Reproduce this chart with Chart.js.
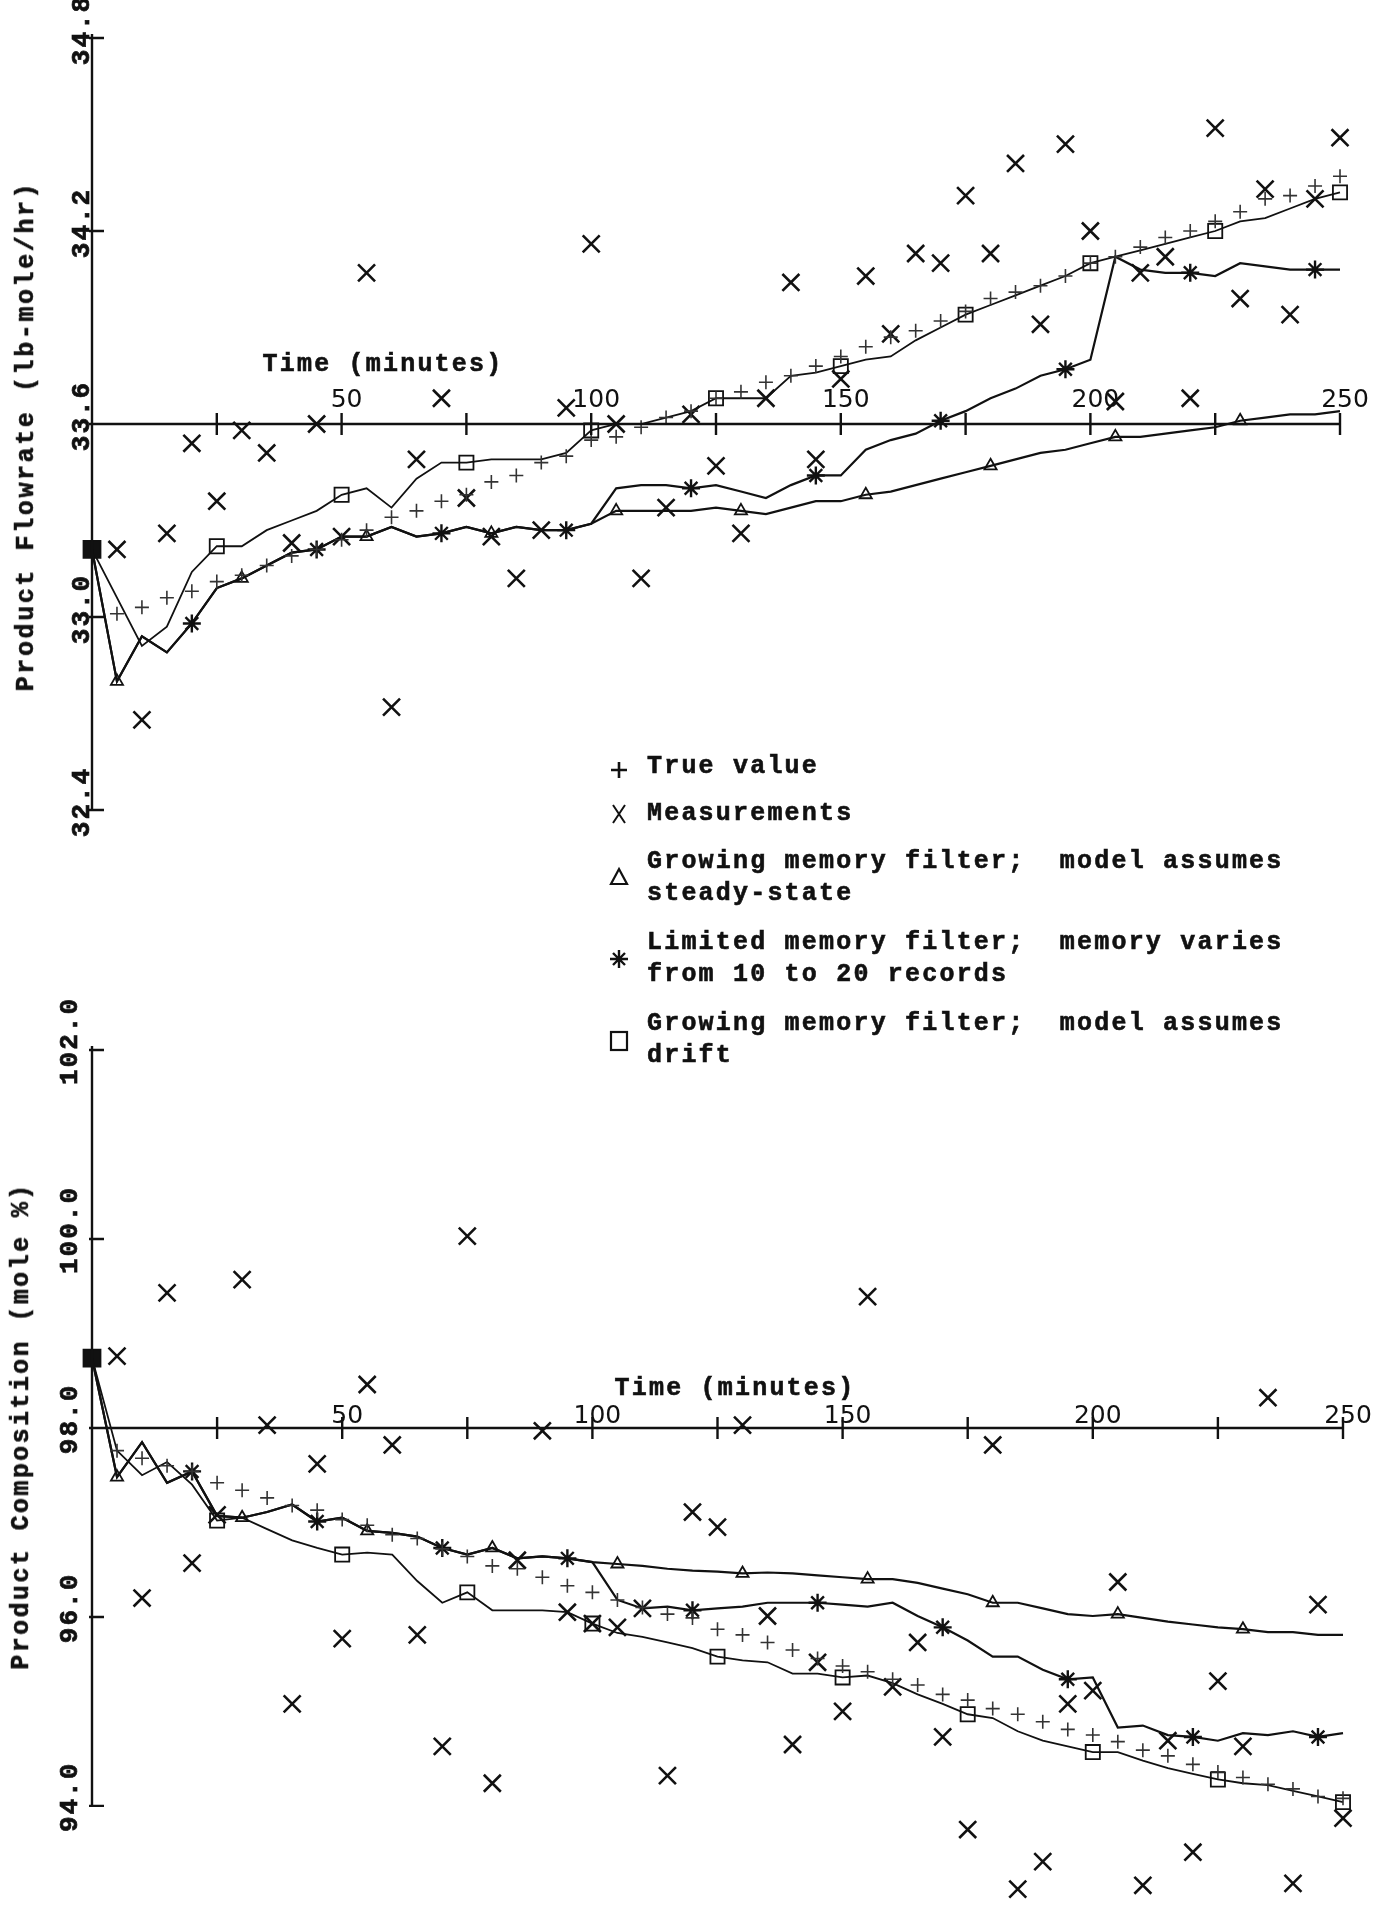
<!DOCTYPE html>
<html>
<head>
<meta charset="utf-8">
<script src="https://cdn.jsdelivr.net/npm/chart.js@4.4.0/dist/chart.umd.min.js"></script>
<style>
  html, body { margin: 0; padding: 0; background: #fff; }
  #page { position: relative; width: 1378px; height: 1915px; overflow: hidden; background: #fff; }
  canvas { position: absolute; left: 0; }
  #flow { top: 0; }
  #comp { top: 980px; }
  .tw { position: absolute; font-family: "Liberation Mono", "DejaVu Sans Mono", monospace; font-weight: bold;
        font-size: 25px; letter-spacing: 2.2px; color: #111; white-space: pre; line-height: 32px;
        -webkit-text-stroke: 0.6px #111; }
  .rot { transform: translate(-50%, -50%) rotate(-90deg); }
  .ctr { transform: translate(-50%, -50%); }
  #keys { position: absolute; left: 600px; top: 750px; }
</style>
</head>
<body>
<div id="page">
  <canvas id="flow" width="1378" height="850"></canvas>
  <canvas id="comp" width="1378" height="935"></canvas>

  <div class="tw rot" style="left:27px; top:436px; letter-spacing:2.6px;">Product Flowrate (lb-mole/hr)</div>
  <div class="tw ctr" style="left:383px; top:365px;">Time (minutes)</div>
  <div class="tw rot" style="left:22px; top:1426px; letter-spacing:2.4px;">Product Composition (mole %)</div>
  <div class="tw ctr" style="left:735px; top:1389px;">Time (minutes)</div>

  <svg id="keys" width="40" height="310" fill="none" stroke="#111">
    <path d="M11 20 H27 M19 12 V28" stroke-width="2.6"/>
    <path d="M13 55 L25 73 M25 55 L13 73" stroke-width="2"/>
    <path d="M19 119 L27 134 L11 134 Z" stroke-width="2.2"/>
    <path d="M10 209 H28 M19 200 V218 M13 203 L25 215 M25 203 L13 215" stroke-width="2.4"/>
    <rect x="11" y="282" width="16" height="18" stroke-width="2.2"/>
  </svg>
  <div class="tw" style="left:647px; top:751px;">True value</div>
  <div class="tw" style="left:647px; top:798px;">Measurements</div>
  <div class="tw" style="left:647px; top:846px;">Growing memory filter;  model assumes
steady-state</div>
  <div class="tw" style="left:647px; top:927px;">Limited memory filter;  memory varies
from 10 to 20 records</div>
  <div class="tw" style="left:647px; top:1008px;">Growing memory filter;  model assumes
drift</div>
</div>

<script>
var ink = '#111';

// time of each record, minutes
var minutes = [0, 5, 10, 15, 20, 25, 30, 35, 40, 45,
    50, 55, 60, 65, 70, 75, 80, 85, 90, 95,
    100, 105, 110, 115, 120, 125, 130, 135, 140, 145,
    150, 155, 160, 165, 170, 175, 180, 185, 190, 195,
    200, 205, 210, 215, 220, 225, 230, 235, 240, 245, 250];

var timeTicks = [25, 50, 75, 100, 125, 150, 175, 200, 225, 250];
var timeLabels = [50, 100, 150, 200, 250];
var flowTicks = [34.8, 34.2, 33.6, 33.0, 32.4];
var compTicks = [102.0, 100.0, 98.0, 96.0, 94.0];

// product flowrate (lb-mole/hr)
var flowTrue = [32.98, 33.01, 33.03, 33.06, 33.08, 33.11, 33.13, 33.16, 33.19, 33.21,
    33.24, 33.27, 33.31, 33.33, 33.36, 33.38, 33.42, 33.44, 33.48, 33.50,
    33.55, 33.56, 33.59, 33.62, 33.64, 33.68, 33.70, 33.73, 33.75, 33.78,
    33.81, 33.84, 33.87, 33.89, 33.92, 33.95, 33.99, 34.01, 34.03, 34.06,
    34.10, 34.12, 34.15, 34.18, 34.20, 34.23, 34.26, 34.30, 34.31, 34.34, 34.37];
var flowMeas = [null, 33.21, 32.68, 33.26, 33.54, 33.36, 33.58, 33.51, 33.23, 33.60,
    33.25, 34.07, 32.72, 33.49, 33.68, 33.37, 33.25, 33.12, 33.27, 33.65,
    34.16, 33.60, 33.12, 33.34, 33.63, 33.47, 33.26, 33.68, 34.04, 33.49,
    33.74, 34.06, 33.88, 34.13, 34.10, 34.31, 34.13, 34.41, 33.91, 34.47,
    34.20, 33.67, 34.07, 34.12, 33.68, 34.52, 33.99, 34.33, 33.94, 34.30, 34.49];
var flowSteady = [33.21, 32.80, 32.94, 32.89, 32.98, 33.09, 33.12, 33.16, 33.20, 33.21,
    33.25, 33.25, 33.28, 33.25, 33.26, 33.28, 33.26, 33.28, 33.27, 33.27,
    33.29, 33.33, 33.33, 33.33, 33.33, 33.34, 33.33, 33.32, 33.34, 33.36,
    33.36, 33.38, 33.39, 33.41, 33.43, 33.45, 33.47, 33.49, 33.51, 33.52,
    33.54, 33.56, 33.56, 33.57, 33.58, 33.59, 33.61, 33.62, 33.63, 33.63, 33.64];
var flowLimited = [33.21, 32.80, 32.94, 32.89, 32.98, 33.09, 33.12, 33.16, 33.20, 33.21,
    33.25, 33.25, 33.28, 33.25, 33.26, 33.28, 33.26, 33.28, 33.27, 33.27,
    33.29, 33.40, 33.41, 33.41, 33.40, 33.41, 33.39, 33.37, 33.41, 33.44,
    33.44, 33.52, 33.55, 33.57, 33.61, 33.64, 33.68, 33.71, 33.75, 33.77,
    33.80, 34.12, 34.08, 34.07, 34.07, 34.06, 34.10, 34.09, 34.08, 34.08, 34.08];
var flowDrift = [33.21, null, 32.91, 32.97, 33.14, 33.22, 33.22, 33.27, 33.30, 33.33,
    33.38, 33.40, 33.34, 33.43, 33.48, 33.48, 33.49, 33.49, 33.49, 33.51,
    33.58, 33.60, 33.60, 33.62, 33.64, 33.68, 33.68, 33.68, 33.75, 33.76,
    33.78, 33.80, 33.81, 33.86, 33.90, 33.94, 33.97, 34.00, 34.03, 34.06,
    34.10, 34.12, 34.14, 34.16, 34.18, 34.20, 34.23, 34.24, 34.27, 34.30, 34.32];

// product composition (mole %)
var compTrue = [97.85, 97.76, 97.68, 97.60, 97.54, 97.42, 97.34, 97.26, 97.18, 97.13,
    97.03, 96.97, 96.87, 96.83, 96.72, 96.64, 96.54, 96.51, 96.42, 96.33,
    96.26, 96.18, 96.10, 96.03, 95.99, 95.87, 95.81, 95.73, 95.65, 95.56,
    95.48, 95.42, 95.34, 95.28, 95.18, 95.12, 95.03, 94.97, 94.89, 94.81,
    94.75, 94.68, 94.59, 94.53, 94.44, 94.36, 94.30, 94.23, 94.18, 94.10, 94.08];
var compMeas = [null, 98.76, 96.20, 99.43, 96.57, 97.08, 99.57, 98.03, 95.08, 97.62,
    95.77, 98.46, 97.82, 95.81, 94.63, 100.03, 94.24, 96.60, 97.97, 96.05,
    95.93, 95.89, 96.09, 94.32, 97.11, 96.95, 98.03, 96.01, 94.65, 95.52,
    95.00, 99.39, 95.26, 95.73, 94.73, 93.75, 97.82, 93.12, 93.41, 95.08,
    95.22, 96.37, 93.16, 94.69, 93.51, 95.32, 94.63, 98.32, 93.18, 96.13, 93.87];
var compSteady = [98.74, 97.48, 97.85, 97.42, 97.54, 97.07, 97.05, 97.11, 97.19, 97.01,
    97.05, 96.91, 96.89, 96.85, 96.73, 96.66, 96.73, 96.62, 96.64, 96.62,
    96.58, 96.56, 96.54, 96.51, 96.49, 96.48, 96.46, 96.47, 96.46, 96.44,
    96.42, 96.40, 96.40, 96.36, 96.30, 96.24, 96.15, 96.15, 96.09, 96.03,
    96.01, 96.03, 95.99, 95.95, 95.92, 95.89, 95.87, 95.84, 95.84, 95.81, 95.81];
var compLimited = [98.74, 97.48, 97.85, 97.42, 97.54, 97.07, 97.05, 97.11, 97.19, 97.01,
    97.05, 96.91, 96.89, 96.85, 96.73, 96.66, 96.73, 96.62, 96.64, 96.62,
    96.58, 96.18, 96.09, 96.11, 96.07, 96.09, 96.11, 96.15, 96.15, 96.15,
    96.13, 96.11, 96.15, 96.01, 95.89, 95.75, 95.58, 95.58, 95.44, 95.34,
    95.36, 94.83, 94.85, 94.75, 94.73, 94.69, 94.77, 94.75, 94.79, 94.73, 94.77];
var compDrift = [98.74, 97.76, 97.50, 97.64, 97.40, 97.02, 97.05, 96.93, 96.81, 96.73,
    96.66, 96.68, 96.66, 96.38, 96.15, 96.26, 96.07, 96.07, 96.07, 96.05,
    95.93, 95.83, 95.79, 95.73, 95.67, 95.58, 95.54, 95.52, 95.40, 95.40,
    95.36, 95.38, 95.30, 95.18, 95.08, 94.97, 94.93, 94.79, 94.69, 94.63,
    94.57, 94.57, 94.48, 94.40, 94.34, 94.28, 94.24, 94.22, 94.16, 94.10, 94.04];

// axes cross inside the plot, labels sit above the time axis
var crossAxes = {
    id: 'crossAxes',
    afterDatasetsDraw: function (chart, args, o) {
        var ctx = chart.ctx, xs = chart.scales.x, ys = chart.scales.y;
        var x0 = xs.getPixelForValue(0);
        var xEnd = xs.getPixelForValue(250);
        var yAxis = ys.getPixelForValue(o.crossAt);
        var yTop = ys.getPixelForValue(o.yTicks[0]);
        var yBot = ys.getPixelForValue(o.yTicks[o.yTicks.length - 1]);
        ctx.save();
        ctx.strokeStyle = ink;
        ctx.fillStyle = ink;
        ctx.lineWidth = 2.4;
        ctx.beginPath();
        ctx.moveTo(x0, yTop - 4);
        ctx.lineTo(x0, yBot);
        ctx.moveTo(x0, yAxis);
        ctx.lineTo(xEnd, yAxis);
        o.xTicks.forEach(function (v) {
            var p = xs.getPixelForValue(v);
            ctx.moveTo(p, yAxis - 11);
            ctx.lineTo(p, yAxis + 11);
        });
        o.yTicks.forEach(function (v) {
            var p = ys.getPixelForValue(v);
            ctx.moveTo(x0 - 3, p);
            ctx.lineTo(x0 + 12, p);
        });
        ctx.stroke();

        ctx.font = '25px "DejaVu Sans"';
        ctx.textAlign = 'center';
        ctx.textBaseline = 'alphabetic';
        o.xLabels.forEach(function (v) {
            ctx.fillText(String(v), xs.getPixelForValue(v) + 5, yAxis - o.labelLift);
        });

        ctx.font = 'bold 26px "Liberation Mono"';
        ctx.lineWidth = 0.7;
        if ('letterSpacing' in ctx) ctx.letterSpacing = '2px';
        o.yTicks.forEach(function (v) {
            ctx.save();
            ctx.translate(o.yLabelX, ys.getPixelForValue(v) + o.yLabelShift);
            ctx.rotate(-Math.PI / 2);
            ctx.textAlign = 'center';
            ctx.textBaseline = 'middle';
            ctx.fillText(v.toFixed(1), 0, 0);
            ctx.strokeText(v.toFixed(1), 0, 0);
            ctx.restore();
        });
        ctx.restore();
    }
};

function buildSets(trueV, meas, steady, limited, drift) {
    var pts = function (v) { return minutes.map(function (t, i) { return { x: t, y: v[i] }; }); };
    var every = function (k, r) { return function (c) { return c.dataIndex % 5 === k ? r : 0; }; };
    return [
        {
            label: 'True value', data: pts(trueV), showLine: false, clip: false,
            pointStyle: 'cross', pointRadius: function (c) { return c.dataIndex === 0 ? 0 : 7; },
            pointBorderWidth: 1.6, pointBorderColor: '#333'
        },
        {
            label: 'Measurements', data: pts(meas), showLine: false, clip: false,
            pointStyle: 'crossRot', pointRadius: 12, pointBorderWidth: 2.6, pointBorderColor: ink
        },
        {
            label: 'Growing memory filter; model assumes steady-state', data: pts(steady), clip: false,
            borderColor: ink, borderWidth: 2.2,
            pointStyle: 'triangle', pointRadius: every(1, 7), pointBorderWidth: 1.8,
            pointBorderColor: ink, pointBackgroundColor: 'rgba(255,255,255,0)'
        },
        {
            label: 'Limited memory filter; memory varies from 10 to 20 records', data: pts(limited), clip: false,
            borderColor: ink, borderWidth: 2.2,
            pointStyle: 'star', pointRadius: every(4, 9), pointBorderWidth: 2.4, pointBorderColor: ink
        },
        {
            label: 'Growing memory filter; model assumes drift', data: pts(drift), clip: false, spanGaps: true,
            borderColor: ink, borderWidth: 1.8,
            pointStyle: 'rect',
            pointRadius: function (c) { return c.dataIndex === 0 ? 12 : (c.dataIndex % 5 === 0 ? 10 : 0); },
            pointBorderWidth: 1.8, pointBorderColor: ink,
            pointBackgroundColor: function (c) { return c.dataIndex === 0 ? ink : 'rgba(255,255,255,0)'; }
        }
    ];
}

function makeChart(id, sets, yMin, yMax, pad, axes) {
    return new Chart(document.getElementById(id).getContext('2d'), {
        type: 'line',
        data: { datasets: sets },
        options: {
            responsive: false,
            animation: false,
            devicePixelRatio: 1,
            events: [],
            layout: { padding: pad },
            elements: { line: { tension: 0 } },
            scales: {
                x: { type: 'linear', min: 0, max: 250, display: false },
                y: { type: 'linear', min: yMin, max: yMax, display: false }
            },
            plugins: {
                legend: { display: false },
                tooltip: { enabled: false },
                crossAxes: axes
            }
        },
        plugins: [crossAxes]
    });
}

var flowChart = makeChart('flow',
    buildSets(flowTrue, flowMeas, flowSteady, flowLimited, flowDrift),
    32.4, 34.8,
    { left: 92, right: 38, top: 38, bottom: 40 },
    { crossAt: 33.6, xTicks: timeTicks, xLabels: timeLabels, yTicks: flowTicks,
      labelLift: 17, yLabelX: 82, yLabelShift: -8 });

var compChart = makeChart('comp',
    buildSets(compTrue, compMeas, compSteady, compLimited, compDrift),
    93.0, 102.0,
    { left: 92, right: 35, top: 70, bottom: 1 },
    { crossAt: 98.0, xTicks: timeTicks, xLabels: timeLabels, yTicks: compTicks,
      labelLift: 5, yLabelX: 70, yLabelShift: -9 });
</script>
</body>
</html>
